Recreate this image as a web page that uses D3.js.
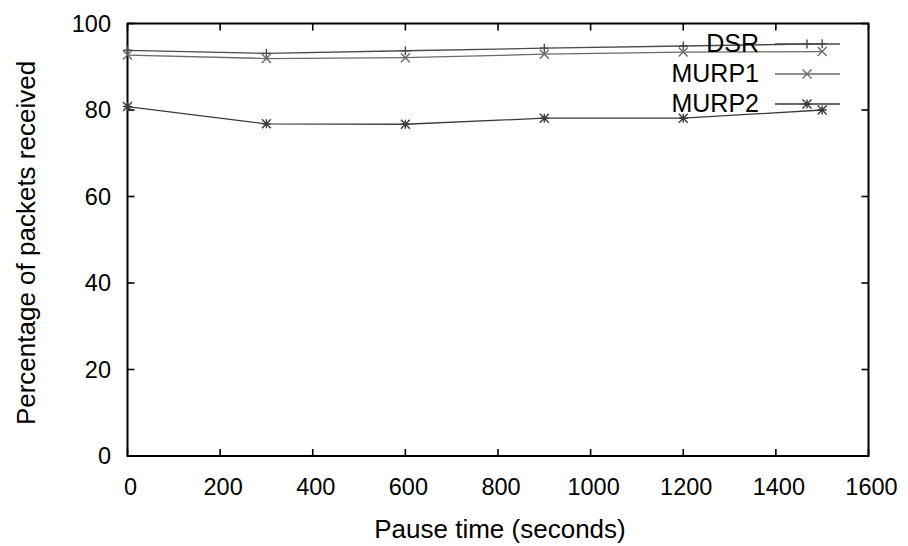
<!DOCTYPE html>
<html>
<head>
<meta charset="utf-8">
<script src="https://cdn.jsdelivr.net/npm/d3@7"></script>
<style>
  html, body { margin: 0; padding: 0; background: #fff; }
  svg { display: block; }
  text { font-family: "Liberation Sans", Arial, Helvetica, sans-serif; fill: #000; }
</style>
</head>
<body>
<svg id="chart" width="908" height="546"></svg>
<script>
// Pause time (seconds) on the x axis
const pauseTimes = [0, 300, 600, 900, 1200, 1500];
// Packet delivery ratio (%) per protocol
const dsrValues   = [93.8, 93.1, 93.7, 94.3, 94.8, 95.3];
const murp1Values = [92.7, 91.9, 92.1, 92.9, 93.4, 93.5];
const murp2Values = [80.8, 76.8, 76.7, 78.1, 78.1, 80.0];
const seriesNames = ["DSR", "MURP1", "MURP2"];
const xTicks = [0, 200, 400, 600, 800, 1000, 1200, 1400, 1600];
const yTicks = [0, 20, 40, 60, 80, 100];

const series = [
  { name: seriesNames[0], values: dsrValues,   marker: "plus",  color: "#4a4a4a" },
  { name: seriesNames[1], values: murp1Values, marker: "cross", color: "#6a6a6a" },
  { name: seriesNames[2], values: murp2Values, marker: "star",  color: "#3a3a3a" }
];

const svg = d3.select("#chart");
const plotLeft = 127.5, plotRight = 868.5, plotTop = 23.5, plotBottom = 456;

const x = d3.scaleLinear().domain([0, 1600]).range([plotLeft, plotRight]);
const y = d3.scaleLinear().domain([0, 100]).range([plotBottom, plotTop]);

const tickLen = 7;
const axisG = svg.append("g");

// x ticks (bottom and mirrored top)
xTicks.forEach(t => {
  axisG.append("line").attr("x1", x(t)).attr("x2", x(t))
    .attr("y1", plotBottom).attr("y2", plotBottom - tickLen)
    .attr("stroke", "#000").attr("stroke-width", 1.6);
  axisG.append("line").attr("x1", x(t)).attr("x2", x(t))
    .attr("y1", plotTop).attr("y2", plotTop + tickLen)
    .attr("stroke", "#000").attr("stroke-width", 1.6);
  axisG.append("text").attr("x", x(t) + 3).attr("y", 495)
    .attr("text-anchor", "middle").attr("font-size", 23.5).text(t);
});

// y ticks (left and mirrored right)
yTicks.forEach(t => {
  axisG.append("line").attr("x1", plotLeft).attr("x2", plotLeft + tickLen)
    .attr("y1", y(t)).attr("y2", y(t))
    .attr("stroke", "#000").attr("stroke-width", 1.6);
  axisG.append("line").attr("x1", plotRight).attr("x2", plotRight - tickLen)
    .attr("y1", y(t)).attr("y2", y(t))
    .attr("stroke", "#000").attr("stroke-width", 1.6);
  axisG.append("text").attr("x", 111).attr("y", y(t))
    .attr("dy", "0.36em")
    .attr("text-anchor", "end").attr("font-size", 23.5).text(t);
});

// frame
axisG.append("rect")
  .attr("x", plotLeft).attr("y", plotTop)
  .attr("width", plotRight - plotLeft).attr("height", plotBottom - plotTop)
  .attr("fill", "none").attr("stroke", "#000").attr("stroke-width", 2);

// axis titles
svg.append("text").attr("x", 500).attr("y", 538)
  .attr("text-anchor", "middle").attr("font-size", 26)
  .text("Pause time (seconds)");
svg.append("text")
  .attr("transform", "translate(35, 243) rotate(-90)")
  .attr("text-anchor", "middle").attr("font-size", 26)
  .text("Percentage of packets received");

function drawMarker(g, type, cx, cy, color) {
  const r = 4.5;
  const path = d3.path();
  if (type === "plus" || type === "star") {
    path.moveTo(cx - r, cy); path.lineTo(cx + r, cy);
    path.moveTo(cx, cy - r); path.lineTo(cx, cy + r);
  }
  if (type === "cross" || type === "star") {
    path.moveTo(cx - r, cy - r); path.lineTo(cx + r, cy + r);
    path.moveTo(cx - r, cy + r); path.lineTo(cx + r, cy - r);
  }
  g.append("path").attr("d", path.toString())
    .attr("stroke", color).attr("stroke-width", 1.4).attr("fill", "none");
}

const line = d3.line().x(d => x(d[0])).y(d => y(d[1]));
const plotG = svg.append("g");

series.forEach(s => {
  const pts = pauseTimes.map((t, i) => [t, s.values[i]]);
  plotG.append("path").datum(pts).attr("d", line)
    .attr("fill", "none").attr("stroke", s.color).attr("stroke-width", 1.3);
  pts.forEach(p => drawMarker(plotG, s.marker, x(p[0]), y(p[1]), s.color));
});

// key
const keyG = svg.append("g");
const keyRows = [44, 74, 104];
series.forEach((s, i) => {
  const ky = keyRows[i];
  keyG.append("text").attr("x", 759).attr("y", ky + 7.5)
    .attr("text-anchor", "end").attr("font-size", 25).text(s.name);
  keyG.append("line").attr("x1", 775).attr("x2", 840)
    .attr("y1", ky).attr("y2", ky)
    .attr("stroke", s.color).attr("stroke-width", 1.3);
  drawMarker(keyG, s.marker, 807, ky, s.color);
});
</script>
</body>
</html>
